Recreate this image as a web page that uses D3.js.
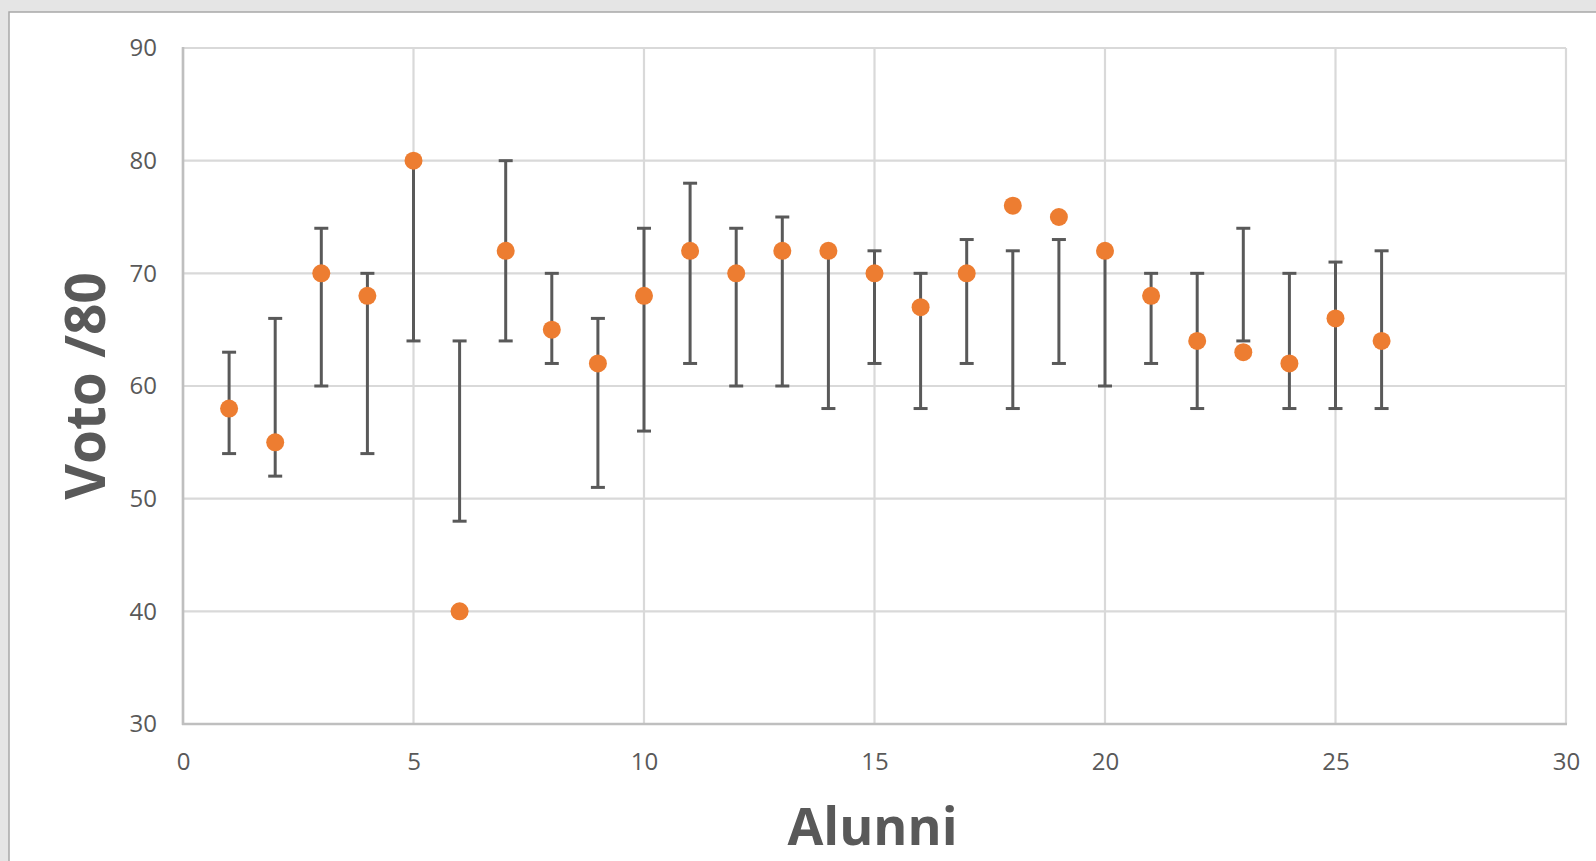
<!DOCTYPE html>
<html>
<head>
<meta charset="utf-8">
<script src="https://cdn.jsdelivr.net/npm/d3@7"></script>
<style>
  html, body { margin: 0; padding: 0; background: #e6e6e6; overflow: hidden; }
  svg { display: block; }
</style>
</head>
<body>
<svg id="chart" width="1596" height="861"></svg>
<script>
// ---- Data ----
const alunni   = [1, 2, 3, 4, 5, 6, 7, 8, 9, 10, 11, 12, 13, 14, 15, 16, 17, 18, 19, 20, 21, 22, 23, 24, 25, 26];
const voto     = [58, 55, 70, 68, 80, 40, 72, 65, 62, 68, 72, 70, 72, 72, 70, 67, 70, 76, 75, 72, 68, 64, 63, 62, 66, 64];
const barLow   = [54, 52, 60, 54, 64, 48, 64, 62, 51, 56, 62, 60, 60, 58, 62, 58, 62, 58, 62, 60, 62, 58, 64, 58, 58, 58];
const barHigh  = [63, 66, 74, 70, 80, 64, 80, 70, 66, 74, 78, 74, 75, 72, 72, 70, 73, 72, 73, 72, 70, 70, 74, 70, 71, 72];
const xTicks   = [0, 5, 10, 15, 20, 25, 30];
const yTicks   = [30, 40, 50, 60, 70, 80, 90];
const xTitle   = "Alunni";
const yTitle   = "Voto /80";

(function () {
const rows = alunni.map((a, i) => ({ x: a, y: voto[i], lo: barLow[i], hi: barHigh[i] }));

const svg = d3.select("#chart");
const W = 1596, H = 861;
const font = "'Open Sans', 'Liberation Sans', sans-serif";

// card background
svg.append("rect").attr("x", 0).attr("y", 0).attr("width", W).attr("height", H).attr("fill", "#e5e5e5");
svg.append("rect").attr("x", 9).attr("y", 12).attr("width", W).attr("height", H)
  .attr("fill", "#ffffff").attr("stroke", "#a8a8a8").attr("stroke-width", 1.5);

const pL = 183, pR = 1566, pT = 48, pB = 724;
const x = d3.scaleLinear().domain([0, 30]).range([pL, pR]);
const y = d3.scaleLinear().domain([30, 90]).range([pB, pT]);

// gridlines
const grid = svg.append("g");
grid.selectAll("line.h").data(yTicks).join("line").attr("class", "h")
  .attr("x1", pL).attr("x2", pR)
  .attr("y1", d => y(d)).attr("y2", d => y(d))
  .attr("stroke", "#d9d9d9").attr("stroke-width", 2.2);
grid.selectAll("line.v").data(xTicks).join("line").attr("class", "v")
  .attr("y1", pT).attr("y2", pB)
  .attr("x1", d => x(d)).attr("x2", d => x(d))
  .attr("stroke", "#d9d9d9").attr("stroke-width", 2.2);

// axes lines
svg.append("line").attr("x1", pL).attr("x2", pL).attr("y1", pT - 1).attr("y2", pB + 1)
  .attr("stroke", "#bfbfbf").attr("stroke-width", 2.6);
svg.append("line").attr("x1", pL - 1).attr("x2", pR + 1).attr("y1", pB).attr("y2", pB)
  .attr("stroke", "#bfbfbf").attr("stroke-width", 2.6);

// axes labels via d3 axes
const yAxis = d3.axisLeft(y).tickValues(yTicks).tickSize(0).tickPadding(26);
const gy = svg.append("g").attr("transform", `translate(${pL},0)`).call(yAxis);
gy.select(".domain").remove();
gy.selectAll("text").attr("font-family", font).attr("font-size", 24).attr("fill", "#595959");

const xAxis = d3.axisBottom(x).tickValues(xTicks).tickSize(0).tickPadding(29);
const gx = svg.append("g").attr("transform", `translate(0,${pB})`).call(xAxis);
gx.select(".domain").remove();
gx.selectAll("text").attr("font-family", font).attr("font-size", 24).attr("fill", "#595959");

// error bars
const eb = svg.append("g").attr("stroke", "#595959").attr("stroke-width", 3).attr("fill", "none");
const cap = 7;
rows.forEach(d => {
  eb.append("line").attr("x1", x(d.x)).attr("x2", x(d.x)).attr("y1", y(d.lo)).attr("y2", y(d.hi));
  eb.append("line").attr("x1", x(d.x) - cap).attr("x2", x(d.x) + cap).attr("y1", y(d.lo)).attr("y2", y(d.lo));
  eb.append("line").attr("x1", x(d.x) - cap).attr("x2", x(d.x) + cap).attr("y1", y(d.hi)).attr("y2", y(d.hi));
});

// points
svg.append("g").selectAll("circle").data(rows).join("circle")
  .attr("cx", d => x(d.x)).attr("cy", d => y(d.y)).attr("r", 9)
  .attr("fill", "#ED7D31");

// titles
svg.append("text").attr("x", (pL + pR) / 2 - 2).attr("y", 845)
  .attr("text-anchor", "middle").attr("font-family", font).attr("font-weight", "bold")
  .attr("font-size", 52).attr("fill", "#595959").text(xTitle);

svg.append("text")
  .attr("transform", `translate(105,${(pT + pB) / 2}) rotate(-90)`)
  .attr("text-anchor", "middle").attr("font-family", font).attr("font-weight", "bold")
  .attr("font-size", 55).attr("fill", "#595959").text(yTitle);
})();
</script>
</body>
</html>
